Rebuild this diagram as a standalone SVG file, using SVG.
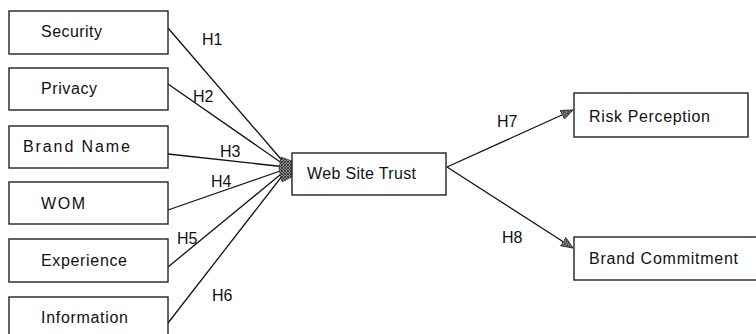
<svg xmlns="http://www.w3.org/2000/svg" width="756" height="334" viewBox="0 0 756 334">
<defs>
<pattern id="hatch" width="3" height="3" patternUnits="userSpaceOnUse">
<rect width="3" height="3" fill="#999"/>
<path d="M0,0 L3,3 M3,0 L0,3" stroke="#222" stroke-width="0.8"/>
</pattern>
<marker id="arr" viewBox="0 0 12 10" refX="12" refY="5" markerWidth="12" markerHeight="10" markerUnits="userSpaceOnUse" orient="auto">
<path d="M0,0 L12,5 L0,10 Z" fill="url(#hatch)" stroke="#222" stroke-width="0.8"/>
</marker>
</defs>
<style>
.box{fill:#fff;stroke:#222;stroke-width:1.4}
.lbl{font-family:"Liberation Sans",Arial,sans-serif;font-size:16px;fill:#111}
.h{font-family:"Liberation Sans",Arial,sans-serif;font-size:16px;fill:#111}
.conn{stroke:#111;stroke-width:1.3;fill:none}
</style>
<rect width="756" height="334" fill="#fff"/>
<g id="connectors">
<line class="conn" x1="168" y1="28" x2="286" y2="165"/>
<line class="conn" x1="168" y1="84" x2="286" y2="166"/>
<line class="conn" x1="168" y1="154" x2="286" y2="167"/>
<line class="conn" x1="168" y1="210" x2="286" y2="169"/>
<line class="conn" x1="168" y1="267" x2="286" y2="170"/>
<line class="conn" x1="168" y1="323" x2="286" y2="171"/>
<polygon points="281,157 292,161 292,177 282,182 279,169" fill="url(#hatch)" stroke="#222" stroke-width="0.6"/>
<line class="conn" x1="447" y1="167" x2="573" y2="110" marker-end="url(#arr)"/>
<line class="conn" x1="447" y1="167" x2="573" y2="248" marker-end="url(#arr)"/>
<text class="h" x="202" y="45">H1</text>
<text class="h" x="193" y="102">H2</text>
<text class="h" x="220" y="157">H3</text>
<text class="h" x="211" y="187">H4</text>
<text class="h" x="177" y="244">H5</text>
<text class="h" x="212" y="301">H6</text>
<text class="h" x="497" y="127">H7</text>
<text class="h" x="502" y="243">H8</text>
</g>
<g id="security"><rect class="box" x="9" y="11" width="159" height="43"/><text class="lbl" x="41" y="37" textLength="61" lengthAdjust="spacing">Security</text></g>
<g id="privacy"><rect class="box" x="9" y="68" width="159" height="42"/><text class="lbl" x="41" y="94" textLength="56" lengthAdjust="spacing">Privacy</text></g>
<g id="brandname"><rect class="box" x="9" y="126" width="159" height="42"/><text class="lbl" x="23" y="152" textLength="107" lengthAdjust="spacing">Brand Name</text></g>
<g id="wom"><rect class="box" x="9" y="182" width="159" height="42"/><text class="lbl" x="41" y="209" textLength="44" lengthAdjust="spacing">WOM</text></g>
<g id="experience"><rect class="box" x="9" y="239" width="159" height="43"/><text class="lbl" x="41" y="266" textLength="86" lengthAdjust="spacing">Experience</text></g>
<g id="information"><rect class="box" x="9" y="297" width="159" height="45"/><text class="lbl" x="41" y="323" textLength="87" lengthAdjust="spacing">Information</text></g>
<g id="websitetrust"><rect class="box" x="292" y="153" width="154" height="42"/><text class="lbl" x="307" y="179" textLength="109" lengthAdjust="spacing">Web Site Trust</text></g>
<g id="riskperception"><rect class="box" x="574" y="93" width="174" height="44"/><text class="lbl" x="589" y="122" textLength="121" lengthAdjust="spacing">Risk Perception</text></g>
<g id="brandcommitment"><rect class="box" x="574" y="237" width="190" height="43"/><text class="lbl" x="589" y="264" textLength="149" lengthAdjust="spacing">Brand Commitment</text></g>
</svg>
